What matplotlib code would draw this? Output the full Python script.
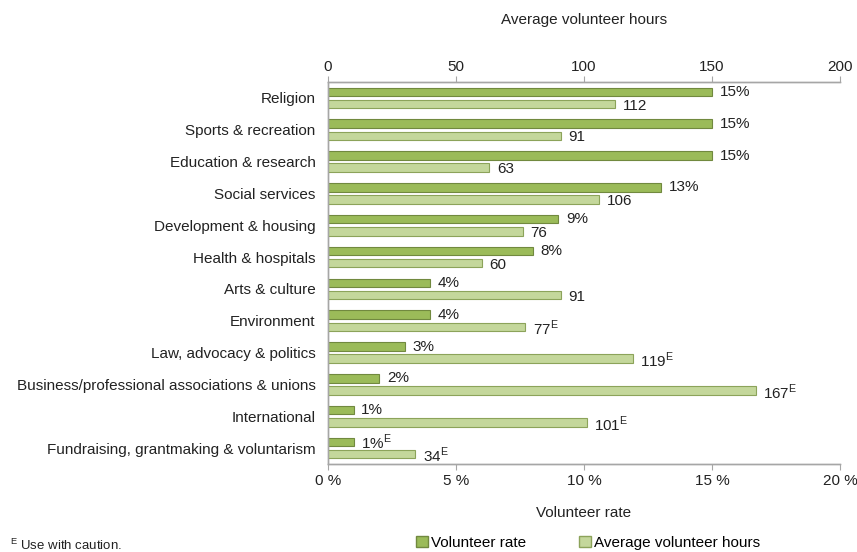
import matplotlib
matplotlib.use("Agg")
import matplotlib.pyplot as plt
import numpy as np
from matplotlib.patches import Patch

plt.rcParams['font.family'] = ['Liberation Sans', 'DejaVu Sans']
plt.rcParams['mathtext.fontset'] = 'custom'
plt.rcParams['mathtext.rm'] = 'Liberation Sans'

categories = ["Religion", "Sports & recreation", "Education & research", "Social services",
              "Development & housing", "Health & hospitals", "Arts & culture", "Environment",
              "Law, advocacy & politics", "Business/professional associations & unions",
              "International", "Fundraising, grantmaking & voluntarism"]
rate = [15, 15, 15, 13, 9, 8, 4, 4, 3, 2, 1, 1]
rate_flag = [False]*11 + [True]
hours = [112, 91, 63, 106, 76, 60, 91, 77, 119, 167, 101, 34]
hours_flag = [False]*7 + [True]*5
rate_ticks = [0, 5, 10, 15, 20]
hours_ticks = [0, 50, 100, 150, 200]

dark = "#9BBB59"
dark_edge = "#71893F"
light = "#C4D79B"
light_edge = "#8CA35A"
grey = "#A6A6A6"

fig = plt.figure(figsize=(8.57, 5.52), dpi=100)
ax = fig.add_axes([328/857, 1-464/552, 512/857, (464-82)/552])
ax2 = ax.twiny()

y = np.arange(len(categories))
h = 0.27
off = 0.19
ax.barh(y - off, rate, height=h, color=dark, edgecolor=dark_edge, linewidth=0.8)
ax2.barh(y + off, hours, height=h, color=light, edgecolor=light_edge, linewidth=0.8)

fs = 11
for yi, v, f in zip(y, rate, rate_flag):
    s = f"{v}%" + (r"$^{\mathrm{E}}$" if f else "")
    ax.text(v + 0.3, yi - off, s, va='center', ha='left', fontsize=fs, color='#222222')
for yi, v, f in zip(y, hours, hours_flag):
    s = f"{v}" + (r"$^{\mathrm{E}}$" if f else "")
    ax2.text(v + 3, yi + off + 0.05, s, va='center', ha='left', fontsize=fs, color='#222222')

ax.set_ylim(len(categories) - 0.5, -0.5)
ax2.set_ylim(len(categories) - 0.5, -0.5)
ax.set_xlim(0, 20)
ax2.set_xlim(0, 200)

ax.set_yticks(y)
ax.set_yticklabels(categories, fontsize=fs, color='#222222')
ax.tick_params(axis='y', length=0, pad=9)

ax.set_xticks(rate_ticks)
ax.set_xticklabels([f"{t} %" for t in rate_ticks], fontsize=fs, color='#222222')
ax.tick_params(axis='x', direction='out', length=4, color=grey, pad=3)
ax2.set_xticks(hours_ticks)
ax2.set_xticklabels([str(t) for t in hours_ticks], fontsize=fs, color='#222222')
ax2.tick_params(axis='x', direction='out', length=4, color=grey, pad=2)

for a in (ax, ax2):
    a.spines['right'].set_visible(False)
    for s in ('left', 'top', 'bottom'):
        a.spines[s].set_color(grey)
        a.spines[s].set_linewidth(1.0)

ax.set_xlabel("Volunteer rate", fontsize=fs, color='#222222', labelpad=13)
ax2.set_xlabel("Average volunteer hours", fontsize=fs, color='#222222', labelpad=26)

handles = [Patch(facecolor=dark, edgecolor=dark_edge, label="Volunteer rate"),
           Patch(facecolor=light, edgecolor=light_edge, label="Average volunteer hours")]
fig.legend(handles=handles, loc='center', bbox_to_anchor=(588/857, 1-543/552), ncol=2,
           frameon=False, fontsize=fs, handlelength=0.75, handleheight=0.75,
           handletextpad=0.2, columnspacing=3.5)

fig.text(10/857, 1-545/552, r"$^{\mathrm{E}}$ Use with caution.", fontsize=9.5,
         color='#222222', va='center', ha='left')

fig.savefig("out.png", dpi=100)
